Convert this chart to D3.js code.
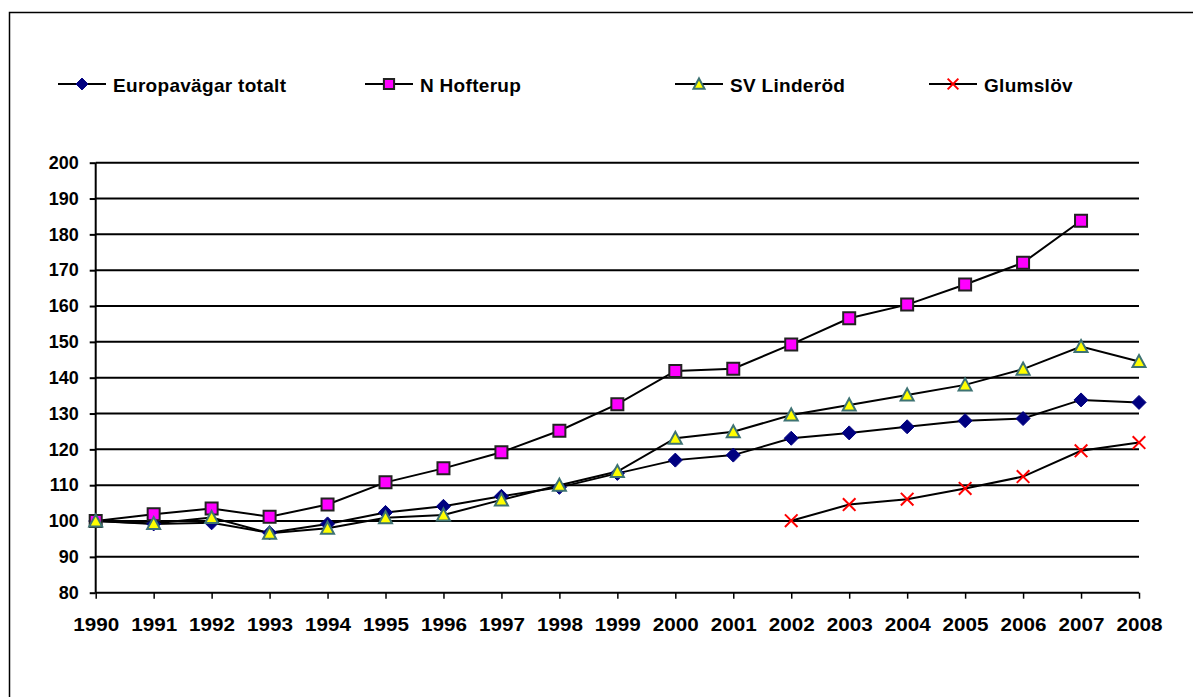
<!DOCTYPE html>
<html><head><meta charset="utf-8">
<script src="https://cdn.jsdelivr.net/npm/d3@7"></script>
<style>body{margin:0;background:#fff;}svg{display:block;}</style>
</head><body>
<svg id="c" width="1193" height="697"></svg>
<script>
const years = [1990,1991,1992,1993,1994,1995,1996,1997,1998,1999,2000,2001,2002,2003,2004,2005,2006,2007,2008];
const yTicks = [80,90,100,110,120,130,140,150,160,170,180,190,200];
const seriesNames = ["Europavägar totalt","N Hofterup","SV Linderöd","Glumslöv"];
const europavagar = [100,99.2,99.5,96.7,99.2,102.4,104.1,106.9,109.4,113.3,117.0,118.4,123.1,124.6,126.3,128.0,128.6,133.8,133.1];
const nHofterup   = [100,101.9,103.5,101.2,104.6,110.8,114.7,119.2,125.2,132.6,141.9,142.5,149.3,156.6,160.4,166.0,172.1,183.8,null];
const svLinderod  = [100,99.3,101.0,96.6,98.0,100.9,101.7,105.9,110.0,113.8,123.1,124.9,129.6,132.4,135.2,138.0,142.4,148.7,144.5];
const glumslov    = [null,null,null,null,null,null,null,null,null,null,null,null,100.1,104.6,106.1,109.1,112.4,119.6,121.9];

const svg = d3.select("#c");
const font = "Arial, 'Liberation Sans', sans-serif";

// outer border (chart area frame)
svg.append("path").attr("d","M9.5,697 L9.5,12.5 L1193,12.5").attr("fill","none").attr("stroke","#000").attr("stroke-width",1.5);

const x = d3.scalePoint().domain(years).range([95.7,1139]);
const y = d3.scaleLinear().domain([80,200]).range([592.7,162.7]);

// gridlines
svg.append("g").selectAll("line").data(yTicks.filter(t=>t>80)).join("line")
  .attr("x1",95.7).attr("x2",1139).attr("y1",d=>y(d)).attr("y2",d=>y(d))
  .attr("stroke","#000").attr("stroke-width",2);

// y axis
const yAxis = d3.axisLeft(y).tickValues(yTicks).tickSize(6).tickPadding(11).tickFormat(d3.format("d"));
const gy = svg.append("g").attr("transform","translate(95.7,0)").call(yAxis);
gy.select(".domain").attr("stroke","#000").attr("stroke-width",2).attr("d","M0,"+y(80)+"V"+y(200));
gy.selectAll(".tick line").attr("stroke","#000").attr("stroke-width",2);
gy.selectAll("text").attr("font-family",font).attr("font-weight","bold").attr("font-size","18px").attr("fill","#000");

// x axis
const xAxis = d3.axisBottom(x).tickSize(6).tickPadding(19).tickFormat(d3.format("d"));
const gx = svg.append("g").attr("transform","translate(0,"+y(80)+")").call(xAxis);
gx.select(".domain").attr("stroke","#000").attr("stroke-width",2).attr("d","M95.7,0H1139");
gx.selectAll(".tick line").attr("stroke","#000").attr("stroke-width",1.5);
gx.selectAll("text").attr("font-family",font).attr("font-weight","bold").attr("font-size","19px").attr("fill","#000")
  .attr("textLength",46).attr("lengthAdjust","spacingAndGlyphs");

const series = [
  {name:seriesNames[0], values:europavagar, sym:"diamond", fill:"#000080", stroke:"#000080", sw:1},
  {name:seriesNames[1], values:nHofterup, sym:"square", fill:"#FF00FF", stroke:"#222", sw:2},
  {name:seriesNames[2], values:svLinderod, sym:"triangle", fill:"#FFFF00", stroke:"#3E7373", sw:2},
  {name:seriesNames[3], values:glumslov, sym:"x", fill:"none", stroke:"#FF0000", sw:2}
];

const line = d3.line().defined(d=>d.v!=null).x(d=>x(d.yr)).y(d=>y(d.v));

function drawMarker(g, s, cx, cy, k){
  let d;
  if (s.sym === "x"){ const r=6.3*k; d=`M${cx-r},${cy-r}L${cx+r},${cy+r}M${cx-r},${cy+r}L${cx+r},${cy-r}`; }
  else if (s.sym === "diamond"){ const r=7*k; d=`M${cx},${cy-r}L${cx+r},${cy}L${cx},${cy+r}L${cx-r},${cy}Z`; }
  else if (s.sym === "square"){ const r=6*k; d=`M${cx-r},${cy-r}H${cx+r}V${cy+r}H${cx-r}Z`; }
  else { const w=6.5*k, h=6.5*k; d=`M${cx},${cy-h}L${cx+w},${cy+h*0.85}L${cx-w},${cy+h*0.85}Z`; }
  g.append("path").attr("d",d).attr("fill",s.fill).attr("stroke",s.stroke).attr("stroke-width",s.sw).attr("stroke-linejoin","miter");
}

series.forEach(s=>{
  const pts = years.map((yr,i)=>({yr, v:s.values[i]}));
  svg.append("path").datum(pts).attr("d",line).attr("fill","none").attr("stroke","#000").attr("stroke-width",2);
});
series.forEach(s=>{
  const g = svg.append("g");
  years.forEach((yr,i)=>{ if (s.values[i]!=null) drawMarker(g,s,x(yr),y(s.values[i]),1); });
});

// legend
const legX = [58,365,675,929];
const legY = 84;
series.forEach((s,i)=>{
  const g = svg.append("g");
  g.append("line").attr("x1",legX[i]).attr("x2",legX[i]+48).attr("y1",legY).attr("y2",legY).attr("stroke","#000").attr("stroke-width",2);
  drawMarker(g,s,legX[i]+24,legY,0.85);
  g.append("text").attr("x",legX[i]+55).attr("y",legY+8).text(s.name)
    .attr("font-family",font).attr("font-weight","bold").attr("font-size","19px").attr("letter-spacing","0.3px").attr("fill","#000");
});
</script>
</body></html>
